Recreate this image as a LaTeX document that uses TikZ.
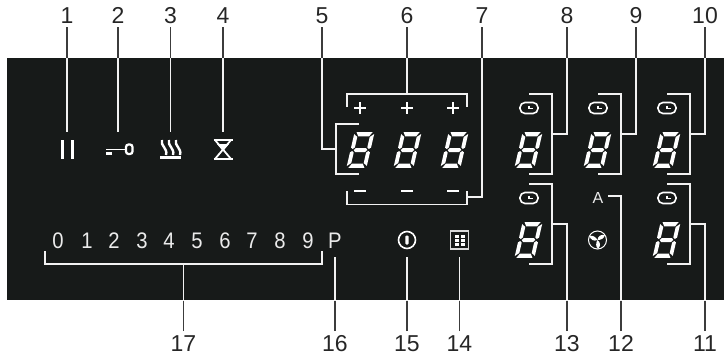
\documentclass[tikz,border=0pt]{standalone}
\usepackage{fontspec}
\setmainfont{Liberation Sans}
\newfontfamily\panelfont[FakeStretch=0.9]{Liberation Sans}
\usetikzlibrary{positioning}
\definecolor{kpanel}{HTML}{171A19}
\definecolor{kleader}{HTML}{3C3C3C}
\colorlet{leadcol}{kleader}
\tikzset{
  numlabel/.style={font=\fontsize{23}{23}\selectfont, text=black!85, text height=16.5pt, text depth=0pt, inner xsep=0pt, inner ysep=3.5pt},
  panellabel/.style={font=\panelfont\fontsize{22.5}{23}\selectfont, text=white!92!black, text height=16pt, text depth=0pt, inner sep=0pt},
  leader/.style={draw=leadcol, line width=1.5pt},
  bracket/.style={draw=white!95!black, line width=1.5pt},
  iconline/.style={draw=white, line width=1.6pt},
  segdigit/.pic={
    \begin{scope}[xslant=0.23]
      \fill[white] (-8,-17.8) -- (8,-17.8) -- (5.4,-13.6) -- (-5.4,-13.6) -- cycle;
      \fill[white] (-8,17.8) -- (8,17.8) -- (5.4,13.6) -- (-5.4,13.6) -- cycle;
      \fill[white] (-6.8,0) -- (-5,-2) -- (5,-2) -- (6.8,0) -- (5,2) -- (-5,2) -- cycle;
      \foreach \sx in {-1,1} \foreach \sy in {-1,1}
        \fill[white] ({\sx*10},{\sy*16}) -- ({\sx*6.2},{\sy*13}) -- ({\sx*6.2},{\sy*2.6}) -- ({\sx*8},{\sy*1.0}) -- ({\sx*10},{\sy*2.4}) -- cycle;
    \end{scope}
  },
  clockicon/.pic={
    \draw[iconline, rounded corners=5pt] (-9,-5.5) rectangle (9,5.5);
    \draw[draw=white, line width=1.1pt] (0,-2.5) -- (0,0.8) -- (4,0.8);
  }
}
\newcommand{\leaderlines}{
  \draw[leader] (n1.south) -- (e1);
  \draw[leader] (n2.south) -- (e2);
  \draw[leader] (n3.south) -- (e3);
  \draw[leader] (n4.south) -- (e4);
  \draw[leader] (n5.south) |- (e5);
  \draw[leader] (n6.south) -- (e6);
  \draw[leader] (n7.south) |- (e7);
  \draw[leader] (n8.south) |- (e8);
  \draw[leader] (n9.south) |- (e9);
  \draw[leader] (n10.south) |- (e10);
  \draw[leader] (n11.north) |- (e11);
  \draw[leader] (n12.north) |- (e12);
  \draw[leader] (n13.north) |- (e13);
  \draw[leader] (n14.north) -- (e14);
  \draw[leader] (n15.north) -- (e15);
  \draw[leader] (n16.north) -- (e16);
  \draw[leader] (n17.north) -- (e17);
}

\begin{document}
\begin{tikzpicture}[x=1pt, y=-1pt]
\useasboundingbox (0,0) rectangle (724,356);
\fill[kpanel] (7,58) rectangle (724,300);
% callout numbers
\foreach \name/\xpos in {1/67, 2/118, 3/170.5, 4/223, 5/322, 6/407, 7/482, 8/567, 9/636, 10/705}
  \node[numlabel] (n\name) at (\xpos,15.5) {\name};
\foreach \name/\xpos in {11/705, 12/621, 13/567, 14/459.5, 15/407, 16/335, 17/183.5}
  \node[numlabel] (n\name) at (\xpos,343) {\name};
% free ends of the leaders
\coordinate (e1) at (67,132);
\coordinate (e2) at (118,132);
\coordinate (e3) at (170.5,132);
\coordinate (e4) at (223,132);
\coordinate (e5) at (336,149);
\coordinate (e6) at (407,94);
\coordinate (e7) at (467,197);
\coordinate (e8) at (552,134);
\coordinate (e9) at (621,134);
\coordinate (e10) at (690,134);
\coordinate (e11) at (690,224);
\coordinate (e12) at (608,196);
\coordinate (e13) at (552,224);
\coordinate (e14) at (459.5,257);
\coordinate (e15) at (407,257);
\coordinate (e16) at (335,257);
\coordinate (e17) at (183.5,264);
% leaders: dark on paper, white on the panel
\leaderlines
\begin{scope}
  \clip (7,58) rectangle (724,300);
  \colorlet{leadcol}{white!95!black}
  \leaderlines
\end{scope}
% brackets
\draw[bracket] (359,124) -- (336,124) -- (336,174) -- (359,174);
\draw[bracket] (347,107) -- (347,94) -- (467,94) -- (467,107);
\draw[bracket] (347,191) -- (347,204.5) -- (467,204.5) -- (467,191);
\foreach \xpos in {552,621,690}
  \draw[bracket] (\xpos-23,94) -- (\xpos,94) -- (\xpos,174) -- (\xpos-23,174);
\foreach \xpos in {552,690}
  \draw[bracket] (\xpos-23,184) -- (\xpos,184) -- (\xpos,264) -- (\xpos-23,264);
\draw[bracket] (45,251) -- (45,264) -- (322,264) -- (322,251);
% plus and minus marks
\foreach \xpos in {360,407,453} {
  \draw[iconline, line width=2.4pt] (\xpos-6,108) -- (\xpos+6,108) (\xpos,102) -- (\xpos,114);
  \draw[iconline, line width=2.4pt] (\xpos-6,191) -- (\xpos+6,191);
}
% displays
\foreach \xpos in {360.5,407.5,454.5}
  \pic at (\xpos,150) {segdigit};
\foreach \xpos in {528.5,597.5,666.5}
  \pic at (\xpos,150) {segdigit};
\foreach \xpos in {528.5,666.5}
  \pic at (\xpos,240) {segdigit};
\foreach \xpos in {529,598,667}
  \pic at (\xpos,108) {clockicon};
\foreach \xpos in {529,667}
  \pic at (\xpos,198) {clockicon};
% power level scale
\foreach \lev/\xpos in {0/58, 1/87, 2/114, 3/142, 4/169, 5/197, 6/225, 7/252, 8/280, 9/308}
  \node[panellabel] (lev\lev) at (\xpos,240) {\lev};
\node[panellabel] (nP) at (335,240) {P};
\node[font=\fontsize{16}{16}\selectfont, text=white!92!black, inner sep=0pt] (nA) at (598,198) {A};
% pause
\fill[white] (61,140) rectangle (64,159);
\fill[white] (71,140) rectangle (74,159);
% key
\draw[iconline] (106,149.5) -- (126,149.5);
\draw[iconline, line width=2.2pt, rounded corners=2.5pt] (126,144.5) rectangle (132.5,154);
\draw[iconline, line width=2.6pt] (106,153.4) -- (112,153.4);
% heat
\foreach \xpos in {164,171,178}
  \draw[iconline, line width=2.4pt] (\xpos-2,140) .. controls (\xpos-4,146) and (\xpos+4,148) .. (\xpos+2,155);
\draw[iconline, line width=2.6pt] (160,157.5) -- (181,157.5);
% hourglass
\draw[iconline, line width=2.2pt] (213.5,140) -- (232.5,140) (213.5,159) -- (232.5,159);
\draw[iconline, line width=1.8pt] (215,140) -- (231,159) (231,140) -- (215,159);
\fill[white] (217,144) -- (229,144) -- (223,151) -- cycle;
% on off
\draw[iconline] (407,240) circle (8.5);
\fill[white, rounded corners=1pt] (405.3,235.5) rectangle (408.7,244.5);
% menu
\draw[iconline, draw=white!85!black] (450.5,231) rectangle (468.5,249);
\foreach \xpos in {454.5,460.5} \foreach \ypos in {235,239,243}
  \fill[white] (\xpos,\ypos) rectangle (\xpos+4.5,\ypos+2.5);
% fan
\begin{scope}[shift={(597.5,240)}]
  \draw[draw=white, line width=1pt] (0,0) circle (9);
  \foreach \ang in {20,140,260}
    \fill[white, rotate=\ang] (0,0) .. controls (1.5,-3.5) and (6,-4.5) .. (8.5,-2) .. controls (7,0.8) and (3,1.2) .. (0,0);
\end{scope}
\end{tikzpicture}
\end{document}
